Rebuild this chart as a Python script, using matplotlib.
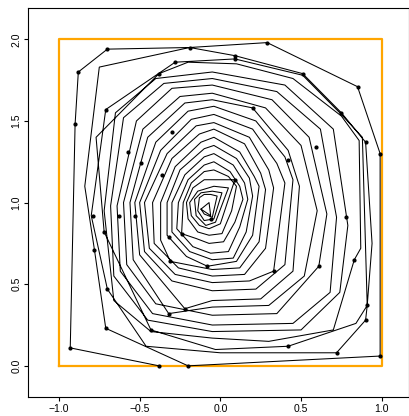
import matplotlib
matplotlib.use("Agg")
import matplotlib.pyplot as plt

# rings of the spiral, from the outside in (x, y)
rings = [
    [(-0.38, 0.00), (-0.93, 0.11), (-0.90, 1.48), (-0.88, 1.80), (-0.70, 1.94), (-0.19, 1.95),
     (0.29, 1.98), (0.85, 1.71), (0.99, 1.30), (0.99, 0.06), (-0.20, 0.00)],
    [(-0.71, 0.23), (-0.78, 0.71), (-0.84, 1.10), (-0.75, 1.83), (-0.19, 1.95), (0.09, 1.90),
     (0.51, 1.79), (0.75, 1.55), (0.90, 1.37), (0.94, 0.75), (0.91, 0.37), (0.90, 0.28),
     (0.72, 0.08), (0.00, 0.08), (-0.46, 0.12)],
    [(-0.70, 0.47), (-0.80, 0.92), (-0.71, 1.57), (-0.28, 1.86), (0.09, 1.88), (0.51, 1.78),
     (0.75, 1.54), (0.88, 1.40), (0.90, 0.72), (0.91, 0.37), (0.84, 0.26), (0.42, 0.12),
     (-0.03, 0.10), (-0.43, 0.22)],
    [(-0.72, 0.82), (-0.77, 1.40), (-0.38, 1.79), (-0.20, 1.86), (0.10, 1.85), (0.45, 1.76),
     (0.75, 1.53), (0.86, 1.38), (0.87, 0.72), (0.83, 0.65), (0.70, 0.22), (0.30, 0.15),
     (-0.05, 0.17), (-0.43, 0.21), (-0.66, 0.40)],
    [(-0.72, 0.95), (-0.65, 1.55), (-0.40, 1.76), (-0.05, 1.80), (0.40, 1.72), (0.70, 1.45),
     (0.79, 0.86), (0.74, 0.45), (0.50, 0.22), (-0.05, 0.21), (-0.45, 0.28), (-0.66, 0.55)],
    [(-0.68, 0.98), (-0.60, 1.52), (-0.35, 1.73), (-0.05, 1.76), (0.35, 1.68), (0.62, 1.45),
     (0.72, 0.91), (0.68, 0.45), (0.45, 0.26), (-0.05, 0.25), (-0.42, 0.32), (-0.62, 0.58)],
    [(-0.64, 0.98), (-0.52, 1.50), (-0.30, 1.70), (-0.05, 1.72), (0.32, 1.63), (0.55, 1.40),
     (0.66, 0.93), (0.61, 0.61), (0.35, 0.32), (-0.05, 0.31), (-0.40, 0.38), (-0.58, 0.62)],
    [(-0.60, 1.00), (-0.48, 1.45), (-0.25, 1.65), (-0.05, 1.67), (0.28, 1.58), (0.50, 1.35),
     (0.60, 0.95), (0.52, 0.55), (0.30, 0.37), (-0.05, 0.36), (-0.32, 0.32), (-0.54, 0.65)],
    [(-0.56, 1.00), (-0.45, 1.40), (-0.22, 1.61), (-0.05, 1.63), (0.20, 1.58), (0.42, 1.32),
     (0.49, 1.10), (0.45, 0.58), (0.25, 0.41), (-0.05, 0.40), (-0.22, 0.35), (-0.50, 0.68)],
    [(-0.53, 1.00), (-0.40, 1.37), (-0.20, 1.56), (-0.04, 1.59), (0.22, 1.50), (0.40, 1.28),
     (0.45, 1.14), (0.40, 0.62), (0.22, 0.47), (-0.05, 0.46), (-0.30, 0.52), (-0.47, 0.70)],
    [(-0.50, 1.00), (-0.37, 1.32), (-0.18, 1.51), (-0.04, 1.54), (0.20, 1.45), (0.35, 1.24),
     (0.40, 1.12), (0.33, 0.58), (0.18, 0.52), (-0.05, 0.51), (-0.28, 0.56), (-0.44, 0.72)],
    [(-0.47, 1.00), (-0.33, 1.30), (-0.15, 1.47), (-0.04, 1.49), (0.18, 1.40), (0.30, 1.20),
     (0.33, 1.09), (0.28, 0.72), (0.15, 0.56), (-0.05, 0.55), (-0.26, 0.60), (-0.41, 0.75)],
    [(-0.42, 1.00), (-0.30, 1.27), (-0.13, 1.42), (-0.04, 1.45), (0.15, 1.36), (0.25, 1.18),
     (0.28, 1.08), (0.24, 0.76), (0.12, 0.60), (-0.05, 0.59), (-0.31, 0.64), (-0.37, 0.77)],
    [(-0.37, 1.00), (-0.28, 1.22), (-0.12, 1.37), (-0.04, 1.40), (0.12, 1.31), (0.21, 1.16),
     (0.24, 1.10), (0.20, 0.80), (0.10, 0.64), (-0.08, 0.61), (-0.21, 0.67), (-0.33, 0.80)],
    [(-0.33, 1.00), (-0.25, 1.20), (-0.10, 1.33), (-0.04, 1.35), (0.10, 1.27), (0.18, 1.15),
     (0.20, 1.04), (0.16, 0.82), (0.08, 0.66), (-0.05, 0.65), (-0.19, 0.70), (-0.30, 0.82)],
    [(-0.30, 1.00), (-0.22, 1.17), (-0.10, 1.28), (-0.04, 1.30), (0.08, 1.23), (0.15, 1.12),
     (0.17, 1.02), (0.12, 0.85), (0.05, 0.70), (-0.06, 0.69), (-0.17, 0.73), (-0.27, 0.84)],
    [(-0.26, 1.00), (-0.20, 1.14), (-0.10, 1.23), (-0.04, 1.25), (0.06, 1.19), (0.12, 1.10),
     (0.14, 1.02), (0.09, 0.88), (0.02, 0.76), (-0.07, 0.75), (-0.15, 0.78), (-0.24, 0.81)],
    [(-0.23, 1.00), (-0.18, 1.12), (-0.10, 1.19), (-0.04, 1.20), (0.05, 1.16), (0.10, 1.10),
     (0.07, 0.95), (0.01, 0.81), (-0.07, 0.80), (-0.14, 0.82), (-0.20, 0.90)],
    [(-0.21, 1.00), (-0.17, 1.09), (-0.10, 1.14), (0.09, 1.14), (0.00, 0.87), (-0.07, 0.84),
     (-0.13, 0.86), (-0.18, 0.92)],
    [(-0.19, 1.00), (-0.14, 1.07), (-0.04, 1.10), (0.05, 1.09), (-0.03, 0.88), (-0.09, 0.86),
     (-0.15, 0.92)],
    [(-0.16, 1.02), (-0.12, 1.06), (-0.05, 1.07), (0.01, 1.06), (-0.04, 0.90), (-0.10, 0.89),
     (-0.14, 0.95)],
    [(-0.13, 1.03), (-0.10, 1.05), (-0.06, 1.05), (-0.02, 1.04), (-0.05, 0.91), (-0.10, 0.93)],
    [(-0.12, 0.96), (-0.07, 1.00), (-0.06, 0.92), (-0.12, 0.96)],
]

# marked points
dot_x = [-0.70, -0.19, 0.29, 0.09, 0.09, 0.51, 0.85, 0.75, 0.99, 0.90, -0.88, -0.90, -0.28,
         -0.38, -0.71, 0.20, -0.30, -0.57, 0.59, 0.42, -0.49, -0.36, 0.09, -0.79, -0.63, -0.53,
         0.78, -0.72, -0.78, -0.24, -0.32, -0.06, -0.31, -0.08, 0.83, 0.61, 0.33, -0.70, -0.22,
         -0.32, 0.91, 0.90, -0.71, -0.43, 0.42, 0.72, 0.99, -0.20, -0.38, -0.93]
dot_y = [1.94, 1.95, 1.98, 1.90, 1.88, 1.79, 1.71, 1.55, 1.30, 1.37, 1.80, 1.48, 1.86,
         1.79, 1.57, 1.58, 1.43, 1.31, 1.34, 1.26, 1.24, 1.17, 1.14, 0.92, 0.92, 0.92,
         0.91, 0.82, 0.71, 0.81, 0.79, 0.90, 0.64, 0.61, 0.65, 0.61, 0.58, 0.47, 0.35,
         0.32, 0.37, 0.28, 0.23, 0.22, 0.12, 0.08, 0.06, 0.00, 0.00, 0.11]

box_x = [-1, 1, 1, -1, -1]
box_y = [0, 0, 2, 2, 0]

path_x = []
path_y = []
for ring in rings:
    for px, py in ring:
        path_x.append(px)
        path_y.append(py)

plt.rcParams['font.family'] = ['Liberation Sans', 'DejaVu Sans']
fig = plt.figure(figsize=(4.10, 4.16), dpi=100)
ax = fig.add_axes([0.069, 0.046, 0.929, 0.934])

ax.plot(box_x, box_y, color="#FFA500", lw=1.6, zorder=1)
ax.plot(path_x, path_y, color="black", lw=0.75, zorder=2)
ax.plot(dot_x, dot_y, "o", color="black", ms=2.0, zorder=3)

ax.set_xlim(-1.19, 1.17)
ax.set_ylim(-0.19, 2.19)
ax.set_xticks([-1.0, -0.5, 0.0, 0.5, 1.0])
ax.set_xticklabels(["\u22121.0", "\u22120.5", "0.0", "0.5", "1.0"])
ax.set_yticks([0.0, 0.5, 1.0, 1.5, 2.0])
ax.set_yticklabels(["0.0", "0.5", "1.0", "1.5", "2.0"], rotation=90, va="center")
ax.tick_params(labelsize=7.5, length=3, pad=2, width=0.8)
for s in ax.spines.values():
    s.set_linewidth(0.8)

fig.savefig("out.png", dpi=100)
